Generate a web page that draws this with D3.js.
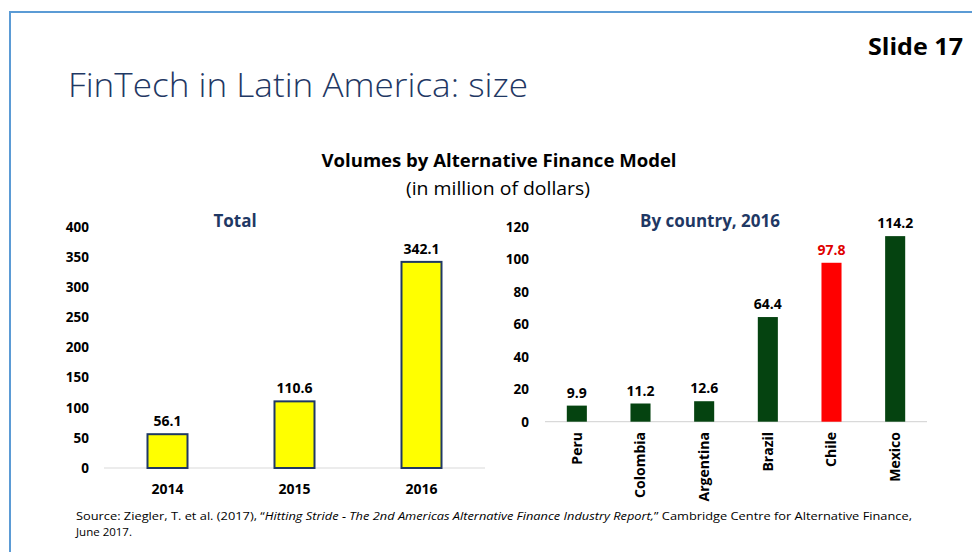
<!DOCTYPE html>
<html>
<head>
<meta charset="utf-8">
<script src="https://cdn.jsdelivr.net/npm/d3@7"></script>
<style>
  body { margin: 0; background: #fff; }
  svg { display: block; font-family: "Open Sans", "Noto Sans", sans-serif; }
</style>
</head>
<body>
<div id="chart"></div>
<script>
// data
var years = ["2014", "2015", "2016"];
var totals = [56.1, 110.6, 342.1];
var totalTicks = [0, 50, 100, 150, 200, 250, 300, 350, 400];

var countries = ["Peru", "Colombia", "Argentina", "Brazil", "Chile", "Mexico"];
var countryValues = [9.9, 11.2, 12.6, 64.4, 97.8, 114.2];
var countryTicks = [0, 20, 40, 60, 80, 100, 120];
var highlight = "Chile";

var W = 972, H = 552;
var navy = "#1F3864";
var green = "#054310";

var svg = d3.select("#chart").append("svg")
    .attr("width", W).attr("height", H);

// slide frame (blue border top / left)
svg.append("path")
    .attr("d", "M10,560 L10,12 L980,12")
    .attr("fill", "none")
    .attr("stroke", "#5B9BD5")
    .attr("stroke-width", 2);

svg.append("text")
    .attr("x", 963).attr("y", 55)
    .attr("text-anchor", "end")
    .attr("font-size", 23).attr("font-weight", "bold")
    .attr("textLength", 95).attr("lengthAdjust", "spacingAndGlyphs")
    .text("Slide 17");

svg.append("text")
    .attr("x", 68).attr("y", 97)
    .attr("font-size", 33).attr("font-weight", 300)
    .attr("fill", navy)
    .attr("textLength", 460).attr("lengthAdjust", "spacingAndGlyphs")
    .text("FinTech in Latin America: size");

svg.append("text")
    .attr("x", 499).attr("y", 167)
    .attr("text-anchor", "middle")
    .attr("font-size", 18).attr("font-weight", "bold")
    .attr("textLength", 355).attr("lengthAdjust", "spacingAndGlyphs")
    .text("Volumes by Alternative Finance Model");

svg.append("text")
    .attr("x", 498).attr("y", 195)
    .attr("text-anchor", "middle")
    .attr("font-size", 18)
    .attr("textLength", 184).attr("lengthAdjust", "spacingAndGlyphs")
    .text("(in million of dollars)");

//----- left chart: Total
var x1 = d3.scaleBand().domain(years).range([104, 485])
    .paddingInner(0.685).paddingOuter(0.3425);
var y1 = d3.scaleLinear().domain([0, 400]).range([468, 227]);

var g1 = svg.append("g");

g1.append("g")
    .attr("transform", "translate(104,0)")
    .call(d3.axisLeft(y1).tickValues(totalTicks).tickSize(0).tickPadding(15))
    .call(g => g.select(".domain").remove())
    .selectAll("text")
    .attr("font-family", "Open Sans, sans-serif")
    .attr("font-size", 13.5).attr("font-weight", "bold").attr("fill", "#000");

g1.append("line")
    .attr("x1", 104).attr("x2", 485)
    .attr("y1", y1(0)).attr("y2", y1(0))
    .attr("stroke", "#D9D9D9").attr("stroke-width", 1.2);

g1.selectAll("rect")
    .data(totals)
    .enter().append("rect")
    .attr("x", (d, i) => x1(years[i]))
    .attr("y", d => y1(d))
    .attr("width", x1.bandwidth())
    .attr("height", d => y1(0) - y1(d))
    .attr("fill", "#FFFF00")
    .attr("stroke", navy)
    .attr("stroke-width", 2);

g1.selectAll(".val")
    .data(totals)
    .enter().append("text")
    .attr("class", "val")
    .attr("x", (d, i) => x1(years[i]) + x1.bandwidth() / 2)
    .attr("y", d => y1(d) - 8)
    .attr("text-anchor", "middle")
    .attr("font-size", 14).attr("font-weight", "bold")
    .text(d => d.toFixed(1));

g1.selectAll(".yr")
    .data(years)
    .enter().append("text")
    .attr("class", "yr")
    .attr("x", d => x1(d) + x1.bandwidth() / 2)
    .attr("y", 494)
    .attr("text-anchor", "middle")
    .attr("font-size", 14).attr("font-weight", "bold")
    .text(d => d);

g1.append("text")
    .attr("x", 235).attr("y", 227)
    .attr("text-anchor", "middle")
    .attr("font-size", 17).attr("font-weight", "bold")
    .attr("fill", navy)
    .text("Total");

//----- right chart: by country
var x2 = d3.scaleBand().domain(countries).range([545, 927])
    .paddingInner(0.685).paddingOuter(0.3425);
var y2 = d3.scaleLinear().domain([0, 120]).range([421.7, 226.7]);

var g2 = svg.append("g");

g2.append("g")
    .attr("transform", "translate(545,0)")
    .call(d3.axisLeft(y2).tickValues(countryTicks).tickSize(0).tickPadding(16))
    .call(g => g.select(".domain").remove())
    .selectAll("text")
    .attr("font-family", "Open Sans, sans-serif")
    .attr("font-size", 13.5).attr("font-weight", "bold").attr("fill", "#000");

g2.append("line")
    .attr("x1", 545).attr("x2", 927)
    .attr("y1", y2(0)).attr("y2", y2(0))
    .attr("stroke", "#D9D9D9").attr("stroke-width", 1.2);

g2.selectAll("rect")
    .data(countryValues)
    .enter().append("rect")
    .attr("x", (d, i) => x2(countries[i]))
    .attr("y", d => y2(d))
    .attr("width", x2.bandwidth())
    .attr("height", d => y2(0) - y2(d))
    .attr("fill", (d, i) => countries[i] === highlight ? "#FF0000" : green);

g2.selectAll(".val")
    .data(countryValues)
    .enter().append("text")
    .attr("class", "val")
    .attr("x", (d, i) => x2(countries[i]) + x2.bandwidth() / 2)
    .attr("y", d => y2(d) - 8)
    .attr("text-anchor", "middle")
    .attr("font-size", 14).attr("font-weight", "bold")
    .attr("fill", (d, i) => countries[i] === highlight ? "#E00000" : "#000")
    .text(d => d.toFixed(1));

g2.selectAll(".cty")
    .data(countries)
    .enter().append("text")
    .attr("class", "cty")
    .attr("transform", d => "translate(" + (x2(d) + x2.bandwidth() / 2) + ",432) rotate(-90)")
    .attr("dy", "0.35em")
    .attr("text-anchor", "end")
    .attr("font-size", 14).attr("font-weight", "bold")
    .text(d => d);

g2.append("text")
    .attr("x", 710).attr("y", 227)
    .attr("text-anchor", "middle")
    .attr("font-size", 17).attr("font-weight", "bold")
    .attr("fill", navy)
    .text("By country, 2016");

//----- source note
var src = svg.append("text")
    .attr("x", 76).attr("y", 520)
    .attr("font-size", 11.5)
    .attr("textLength", 836).attr("lengthAdjust", "spacingAndGlyphs");
src.append("tspan").text("Source: Ziegler, T. et al. (2017), \u201c");
src.append("tspan").attr("font-style", "italic")
    .text("Hitting Stride - The 2nd Americas Alternative Finance Industry Report,");
src.append("tspan").text("\u201d Cambridge Centre for Alternative Finance,");

svg.append("text")
    .attr("x", 76).attr("y", 536)
    .attr("font-size", 11.5)
    .text("June 2017.");
</script>
</body>
</html>
